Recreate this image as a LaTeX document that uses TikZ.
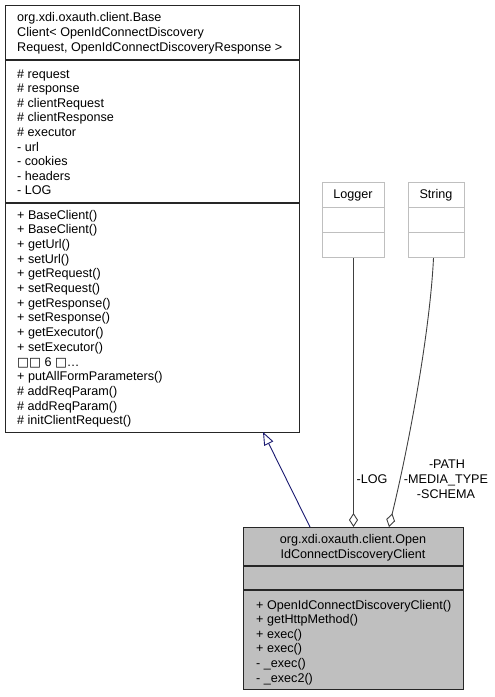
\documentclass[tikz,border=0pt]{standalone}
\usepackage{fontspec}
\setmainfont{Liberation Sans}
\newfontfamily\tofufont{DejaVu Sans}
\usetikzlibrary{arrows.meta}
\definecolor{edgegray}{HTML}{404040}
\definecolor{classfill}{HTML}{BFBFBF}
\definecolor{extframe}{HTML}{BFBFBF}
\definecolor{inheritblue}{HTML}{191970}

\begin{document}
\begin{tikzpicture}[x=1pt,y=-1pt,
  every node/.style={inner sep=0pt,font=\fontsize{12.6}{14.6}\selectfont},
  classbox/.style={draw=black!85,line width=1.1pt,anchor=north west},
  extbox/.style={draw=extframe,fill=white,line width=1pt,anchor=north west},
  member/.style={anchor=base west},
  title/.style={anchor=base},
  inherit/.style={draw=inheritblue,line width=0.9pt,-{Triangle[open,length=13pt,width=10pt]}},
  assoc/.style={draw=edgegray,line width=0.9pt,-{Diamond[open,length=14pt,width=9pt]}}]
\useasboundingbox (0,0) rectangle (495,697);

\node[classbox,minimum width=294pt,minimum height=427pt] (base) at (5,5) {};
\draw[black!85,line width=1.1pt] (5,60) -- (299,60);
\draw[black!85,line width=1.1pt] (5,203) -- (299,203);
\foreach \txt [count=\i from 0] in {org.xdi.oxauth.client.Base,Client< OpenIdConnectDiscovery,{Request, OpenIdConnectDiscoveryResponse >}}
  \node[member] (baseT\i) at (17,21.5+15*\i) {\txt};
\foreach \txt [count=\i from 0] in {\# request,\# response,\# clientRequest,\# clientResponse,\# executor,- url,- cookies,- headers,- LOG}
  \node[member] (baseA\i) at (17,78+14.6*\i) {\txt};
\foreach \txt [count=\i from 0] in {+ BaseClient(),+ BaseClient(),+ getUrl(),+ setUrl(),+ getRequest(),+ setRequest(),+ getResponse(),+ setResponse(),+ getExecutor(),+ setExecutor(),{{\tofufont □□} 6 {\tofufont □}\ldots},+ putAllFormParameters(),\# addReqParam(),\# addReqParam(),\# initClientRequest()}
  \node[member] (baseM\i) at (17,219+14.7*\i) {\txt};

\node[extbox,minimum width=62pt,minimum height=75pt] (logger) at (322,182) {};
\draw[extframe,line width=1pt] (322,207) -- (384,207);
\draw[extframe,line width=1pt] (322,232) -- (384,232);
\node[title] (loggerT) at (353,198) {Logger};

\node[extbox,minimum width=56pt,minimum height=75pt] (string) at (408,182) {};
\draw[extframe,line width=1pt] (408,207) -- (464,207);
\draw[extframe,line width=1pt] (408,232) -- (464,232);
\node[title] (stringT) at (436,198) {String};

\node[classbox,fill=classfill,minimum width=220pt,minimum height=162pt] (derived) at (243,527) {};
\draw[black!85,line width=1.1pt] (243,566) -- (463,566);
\draw[black!85,line width=1.1pt] (243,590) -- (463,590);
\node[title] (derivedT0) at (353,543) {org.xdi.oxauth.client.Open};
\node[title] (derivedT1) at (353,558.5) {IdConnectDiscoveryClient};
\foreach \txt [count=\i from 0] in {+ OpenIdConnectDiscoveryClient(),+ getHttpMethod(),+ exec(),+ exec(),- \_exec(),- \_exec2()}
  \node[member] (derivedM\i) at (256,609+14.6*\i) {\txt};

\coordinate (inhStart) at (310,527);
\coordinate (inhEnd) at (263,432);
\coordinate (strEnd) at (389,527);
\draw[inherit] (inhStart) -- (inhEnd);
\draw[assoc] (logger.south) -- (logger.south |- derived.north);
\draw[assoc] ([xshift=-3pt]string.south) .. controls (430,330) and (410,440) .. (strEnd);

\node[title] (logLabel) at (372,483) {-LOG};
\node[title] (pathLabel) at (447,468.5) {-PATH};
\node[title] (mediaLabel) at (446,483) {-MEDIA\_TYPE};
\node[title] (schemaLabel) at (446,498) {-SCHEMA};
\end{tikzpicture}
\end{document}
